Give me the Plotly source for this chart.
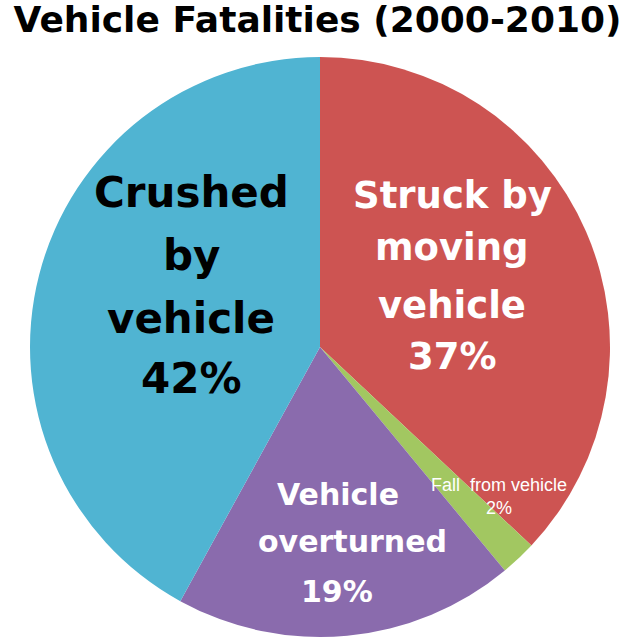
import plotly.graph_objects as go

title_text = "Vehicle Fatalities (2000-2010)"
categories = ["Struck by moving vehicle", "Fall from vehicle", "Vehicle overturned", "Crushed by vehicle"]
values = [37, 2, 19, 42]
colors = ["#CD5452", "#A2C761", "#8A6BAD", "#50B4D2"]

W, H = 635, 640

fig = go.Figure()
fig.add_trace(go.Pie(
    labels=categories,
    values=values,
    sort=False,
    direction="clockwise",
    rotation=0,
    marker=dict(colors=colors, line=dict(width=0)),
    textinfo="none",
    hoverinfo="label+percent",
    showlegend=False,
    domain=dict(x=[30 / W, 610 / W], y=[1 - 637 / H, 1 - 57 / H]),
))

def px(x):
    return x / W

def py(y):
    return 1 - y / H

annotations = []

def add_lines(lines, xs, ys, size, color, family, bold=True):
    for t, x, y in zip(lines, xs, ys):
        txt = f"<b>{t}</b>" if bold else t
        annotations.append(dict(
            text=txt, x=px(x), y=py(y), xref="paper", yref="paper",
            xanchor="center", yanchor="middle", showarrow=False,
            font=dict(size=size, color=color, family=family),
        ))

bold_font = "DejaVu Sans, Arial Black, sans-serif"

# Crushed by vehicle
crushed_lines = ["Crushed", "by", "vehicle", f"{values[3]}%"]
add_lines(crushed_lines, [191] * 4, [192, 255, 318, 378], 42, "#000000", bold_font)

# Struck by moving vehicle
struck_lines = ["Struck by", "moving", "vehicle", f"{values[0]}%"]
add_lines(struck_lines, [452] * 4, [195, 248, 305, 356], 37, "#FFFFFF", bold_font)

# Vehicle overturned
over_lines = ["Vehicle", "overturned", f"{values[2]}%"]
add_lines(over_lines, [338, 352, 337], [494, 541, 591], 30, "#FFFFFF", bold_font)

# Fall from vehicle
annotations.append(dict(
    text=f"Fall  from vehicle<br>{values[1]}%", x=px(499), y=py(496),
    xref="paper", yref="paper", xanchor="center", yanchor="middle",
    showarrow=False, align="center",
    font=dict(size=18, color="#FFFFFF", family="Liberation Sans, Arial, sans-serif"),
))

fig.update_layout(
    width=W, height=H,
    margin=dict(l=0, r=0, t=0, b=0),
    paper_bgcolor="#FFFFFF",
    plot_bgcolor="#FFFFFF",
    title=dict(
        text=f"<b>{title_text}</b>", x=0.5, xanchor="center",
        y=1 - 19 / H, yanchor="middle", yref="container",
        font=dict(size=36, color="#000000", family=bold_font),
    ),
    annotations=annotations,
)

fig.write_html("out.html")
